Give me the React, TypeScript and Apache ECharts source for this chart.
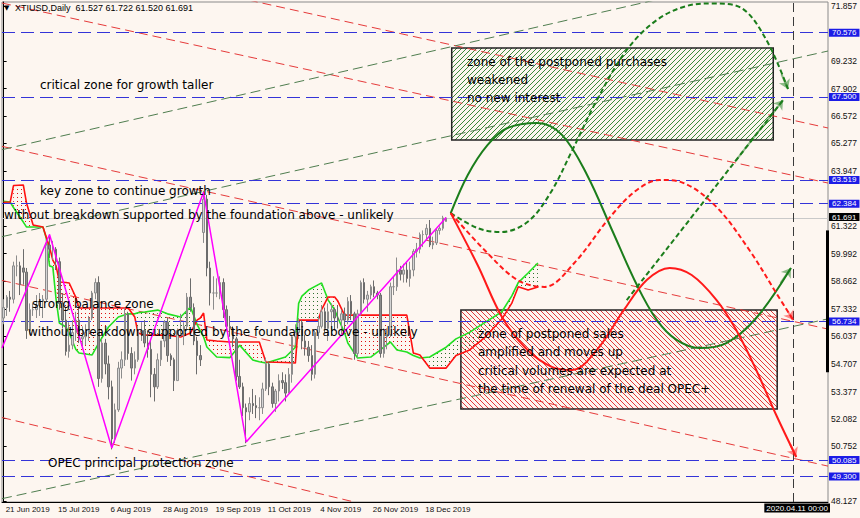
import React, { useEffect, useRef } from 'react';
import * as echarts from 'echarts';

// ---------- data ----------
const categoryCount = 252;
const lastLabelIndex = 128;
const monthNames = ['Jan', 'Feb', 'Mar', 'Apr', 'May', 'Jun', 'Jul', 'Aug', 'Sep', 'Oct', 'Nov', 'Dec'];

const candleOpen = [
  56.9, 57.4, 57.9, 57.8, 59.4, 59.4, 59.3, 59.1, 56.3, 57.3,
  57.3, 57.5, 57.7, 57.8, 60.4, 60.2, 60.2, 59.6, 57.6, 56.8,
  55.3, 55.6, 56.2, 56.8, 55.9, 56.0, 56.2, 56.9, 58.1, 58.6,
  54.0, 55.7, 54.7, 53.6, 51.1, 52.5, 54.5, 54.9, 57.1, 55.2,
  54.5, 54.9, 56.2, 56.3, 55.7, 55.4, 54.2, 53.6, 54.9, 55.8,
  56.7, 55.1, 54.9, 53.9, 56.3, 56.3, 56.5, 57.9, 57.4, 55.8,
  55.1, 61.0, 62.6, 59.3, 58.1, 58.1, 58.1, 58.6, 57.3, 56.5,
  56.4, 55.9, 54.1, 53.6, 52.6, 52.4, 52.8, 52.7, 52.6, 52.6,
  53.5, 54.7, 53.6, 52.8, 53.4, 53.9, 53.8, 53.3, 54.2, 56.0,
  56.2, 56.7, 55.8, 55.5, 55.1, 54.2, 56.2, 56.5, 57.2, 56.4,
  57.2, 57.3, 56.9, 56.8, 57.1, 56.8, 57.7, 57.1, 55.2, 57.1,
  58.6, 57.8, 58.0, 58.4, 58.1, 58.0, 55.2, 56.0, 56.1, 58.4,
  58.4, 59.2, 59.0, 59.2, 58.8, 59.2, 60.1, 60.2, 60.9, 60.9,
  61.2, 60.4, 60.5, 61.1, 61.2, 61.527,
];
const candleClose = [
  57.4, 57.9, 57.8, 59.4, 59.4, 58.5, 59.1, 56.3, 57.3, 57.3,
  57.5, 57.7, 57.8, 60.4, 60.2, 60.2, 59.6, 57.6, 56.8, 55.3,
  55.6, 56.2, 56.8, 55.9, 56.0, 56.2, 56.9, 58.1, 58.6, 54.0,
  55.7, 54.7, 53.6, 51.1, 52.5, 54.5, 54.9, 57.1, 55.2, 54.5,
  54.9, 56.2, 56.3, 55.7, 55.4, 54.2, 53.6, 54.9, 55.8, 56.7,
  55.1, 54.9, 53.9, 56.3, 56.3, 56.5, 57.9, 57.4, 55.8, 55.1,
  54.9, 62.6, 59.3, 58.1, 58.1, 58.1, 58.6, 57.3, 56.5, 56.4,
  55.9, 54.1, 53.6, 52.6, 52.4, 52.8, 52.7, 52.6, 52.6, 53.5,
  54.7, 53.6, 52.8, 53.4, 53.9, 53.8, 53.3, 54.2, 56.0, 56.2,
  56.7, 55.8, 55.5, 55.1, 54.2, 56.2, 56.5, 57.2, 56.4, 57.2,
  57.3, 56.9, 56.8, 57.1, 56.8, 57.7, 57.1, 55.2, 57.1, 58.6,
  57.8, 58.0, 58.4, 58.1, 58.0, 55.2, 56.0, 56.1, 58.4, 58.4,
  59.2, 59.0, 59.2, 58.8, 59.2, 60.1, 60.2, 60.9, 60.9, 61.2,
  60.4, 60.5, 61.1, 61.2, 61.7, 61.691,
];
const candleLow = [
  56.6, 57.0, 57.2, 57.6, 58.9, 58.0, 58.5, 55.9, 56.1, 57.0,
  56.9, 57.0, 56.9, 57.7, 59.8, 59.7, 59.2, 57.3, 56.4, 55.1,
  55.0, 55.4, 55.8, 55.7, 55.4, 55.6, 55.8, 56.8, 57.8, 53.6,
  53.8, 54.2, 53.0, 50.6, 50.9, 52.4, 54.0, 54.6, 54.9, 53.9,
  54.2, 54.8, 55.8, 55.5, 55.0, 53.1, 52.9, 53.5, 54.6, 55.5,
  54.8, 54.6, 53.4, 53.9, 56.0, 55.6, 56.3, 57.2, 55.6, 54.2,
  54.6, 60.5, 58.9, 57.5, 57.3, 57.9, 57.8, 56.9, 56.3, 56.0,
  55.5, 53.9, 53.5, 52.2, 50.9, 52.0, 52.3, 52.1, 52.0, 52.3,
  53.4, 53.2, 52.6, 52.4, 52.9, 53.5, 52.9, 53.3, 53.8, 55.6,
  55.9, 55.4, 55.1, 54.8, 53.9, 54.0, 55.9, 56.4, 56.2, 55.8,
  56.1, 56.3, 56.4, 56.1, 56.3, 56.6, 56.8, 54.9, 55.0, 57.0,
  57.6, 57.2, 57.8, 57.9, 57.8, 55.0, 55.0, 55.4, 56.0, 58.0,
  58.2, 58.7, 58.6, 58.6, 58.4, 58.9, 59.8, 60.0, 60.3, 60.6,
  60.3, 60.2, 60.4, 60.9, 61.1, 61.52,
];
const candleHigh = [
  57.8, 58.0, 58.2, 59.6, 59.9, 59.6, 60.2, 59.3, 57.6, 57.6,
  58.0, 58.1, 58.0, 60.5, 60.9, 60.6, 60.3, 59.8, 58.1, 57.4,
  56.7, 56.8, 57.2, 57.5, 56.5, 56.6, 57.0, 58.2, 58.8, 58.9,
  55.9, 55.9, 55.1, 53.9, 52.8, 54.8, 55.3, 57.4, 57.2, 55.5,
  55.3, 56.5, 56.7, 56.8, 56.3, 55.8, 54.5, 55.2, 55.8, 56.8,
  56.9, 55.2, 55.0, 56.4, 57.1, 56.7, 58.1, 58.8, 57.6, 56.0,
  55.6, 63.0, 62.8, 59.6, 58.9, 58.8, 58.9, 58.8, 57.5, 57.0,
  56.5, 56.0, 54.9, 53.8, 52.8, 53.1, 53.5, 53.2, 53.1, 53.8,
  55.0, 54.8, 53.8, 53.5, 54.2, 54.3, 54.2, 54.5, 56.1, 56.6,
  56.9, 56.8, 56.1, 55.8, 55.6, 56.3, 57.0, 57.5, 57.4, 57.6,
  57.6, 57.4, 57.5, 57.3, 57.4, 57.9, 58.0, 57.2, 57.3, 58.7,
  58.8, 58.2, 58.5, 58.7, 58.2, 58.1, 56.4, 56.4, 58.6, 58.9,
  59.8, 59.4, 59.5, 59.6, 59.6, 60.2, 60.5, 61.0, 61.1, 61.4,
  61.6, 60.8, 61.2, 61.3, 61.8, 61.722,
];

// Ichimoku cloud (bar index, span A green, span B red)
const cloudBar = [0, 2, 3, 6, 7, 9, 12, 13, 14, 15, 16, 17, 19, 20, 22, 23, 27, 29, 32, 35, 38, 40, 41, 43, 47, 50, 54, 57, 59, 60, 61, 62, 65, 69, 72, 76, 78, 80, 86, 89, 90, 91, 93, 96, 97, 99, 101, 102, 104, 105, 108, 112, 116, 118, 120, 123, 125, 127, 130, 135, 138, 142, 147, 152, 155, 157, 160, 163];
const spanA = [62.5, 62.46, 62.2, 61.5, 61.26, 61.26, 61.26, 60.73, 59.4, 59.35, 57.8, 56.66, 56.47, 56.18, 55.4, 55.22, 55.13, 55.7, 56.47, 56.95, 57.1, 57.1, 57.15, 57.19, 57.28, 57.1, 56.95, 57.43, 56.6, 56.3, 56.0, 55.51, 55.03, 55.0, 55.6, 54.89, 54.8, 54.74, 55.03, 55.5, 57.6, 57.95, 58.24, 58.5, 58.58, 57.76, 57.3, 56.9, 56.2, 55.7, 54.98, 55.03, 55.51, 55.75, 55.37, 55.27, 55.1, 54.98, 55.03, 55.5, 55.9, 56.2, 56.7, 57.2, 57.95, 58.6, 59.06, 59.54];
const spanB = [62.45, 62.46, 63.25, 63.28, 62.4, 61.36, 61.26, 60.78, 60.3, 59.68, 59.4, 58.63, 58.6, 58.58, 57.9, 57.38, 57.38, 57.38, 57.38, 57.38, 57.38, 56.95, 56.18, 56.08, 56.08, 56.08, 55.99, 56.18, 56.8, 56.9, 57.14, 55.85, 55.8, 55.75, 55.75, 55.75, 55.75, 54.79, 54.77, 54.74, 56.8, 56.8, 56.8, 56.8, 57.3, 57.91, 57.91, 57.7, 57.04, 57.04, 57.04, 57.04, 57.04, 57.04, 57.04, 57.04, 55.22, 55.13, 54.5, 54.5, 55.1, 55.35, 56.0, 56.85, 57.6, 58.4, 58.24, 58.39];

// ZigZag
const zigzagBar = [-0.5, 14, 33, 61, 74, 135];
const zigzagPrice = [55.46, 60.9, 50.67, 62.94, 50.96, 61.72];

// Trend channels [bar, price] pairs
const redChannels = [
  [[-0.5, 72.0], [251.5, 63.37]],
  [[74.8, 72.14], [251.5, 66.01]],
  [[-0.5, 65.13], [251.5, 56.37]],
  [[-0.5, 58.7], [251.5, 49.8]],
  [[-0.5, 52.13], [107, 48.08]],
];
const greenChannels = [
  [[-0.5, 64.97], [198.6, 72.14]],
  [[-0.5, 60.8], [251.5, 69.7]],
  [[-0.5, 48.24], [251.5, 56.86]],
];

// Forecast scenarios [bar, price]
const greenSolidPath = [[136.4, 61.93], [141.6, 63.76], [147.6, 65.19], [153.7, 66.01], [162.8, 66.25], [170.4, 65.67], [178, 63.76], [185.6, 61.12], [193.2, 58.48], [199.3, 56.8], [205.3, 55.85], [212.3, 55.46], [220.5, 55.7], [229.6, 56.9], [240.2, 59.3]];
const greenDashPath = [[136.4, 61.93], [144.6, 61.21], [151.6, 61.02], [159.8, 61.5], [166.8, 62.89], [173.5, 64.95], [181, 67.35], [190.1, 69.75], [199.3, 71.19], [208.4, 71.86], [216.6, 71.98], [225.1, 71.76], [232.7, 70.23], [239.3, 67.88]];
const greenStraightPath = [[190.1, 57.76], [237.8, 67.35]];
const redSolidPath = [[136.4, 61.93], [144.6, 59.44], [152.2, 56.9], [159.8, 55.37], [167.4, 54.55], [173.5, 54.41], [181, 55.37], [189.2, 57.28], [196.2, 58.72], [203.2, 59.3], [209.9, 58.96], [217.5, 57.76], [223.5, 56.32], [229.6, 54.41], [235.7, 52.25], [241.8, 50.24]];
const redDashPath = [[136.4, 61.93], [146.7, 60.16], [156.8, 58.72], [165, 58.39], [174.1, 59.54], [185, 61.74], [193.2, 63.04], [200.2, 63.52], [207.5, 63.37], [217.5, 62.22], [227.5, 60.16], [235.7, 58.1], [240.9, 56.8]];

// Zones [fromBar, toBar, top, bottom]
const purchaseZone = [136.7, 234.8, 69.84, 65.43];
const salesZone = [139.5, 236.0, 57.28, 52.54];

// Levels & axis
const levelValues = [70.576, 67.5, 63.519, 62.384, 56.734, 50.085, 49.3];
const lastPrice = 61.691;
const markerBar = 240.8;
const markerLabel = '2020.04.11 00:00';
const yTickValues = [71.857, 69.232, 67.902, 66.572, 65.277, 63.947, 61.322, 59.992, 58.662, 57.332, 56.037, 54.707, 53.377, 52.082, 50.752, 48.127];
const yMin = 48.08;
const yMax = 72.05;

// ---------- helpers ----------
function buildCategories(): string[] {
  const out: string[] = [];
  const d = new Date(Date.UTC(2019, 5, 21));
  while (out.length < categoryCount) {
    const wd = d.getUTCDay();
    if (wd !== 0 && wd !== 6) out.push(`${d.getUTCDate()} ${monthNames[d.getUTCMonth()]} ${d.getUTCFullYear()}`);
    d.setUTCDate(d.getUTCDate() + 1);
  }
  return out;
}

function makePattern(size: number, draw: (ctx: CanvasRenderingContext2D, s: number) => void) {
  const c = document.createElement('canvas');
  c.width = size;
  c.height = size;
  const ctx = c.getContext('2d')!;
  draw(ctx, size);
  return { image: c.toDataURL(), repeat: 'repeat', imageWidth: size, imageHeight: size } as any;
}

function hatch(color: string, up: boolean) {
  return makePattern(5, (ctx, s) => {
    ctx.strokeStyle = color;
    ctx.lineWidth = 1;
    ctx.beginPath();
    for (let k = -1; k <= 1; k++) {
      if (up) {
        ctx.moveTo(k * s, s);
        ctx.lineTo(k * s + s, 0);
      } else {
        ctx.moveTo(k * s, 0);
        ctx.lineTo(k * s + s, s);
      }
    }
    ctx.stroke();
  });
}

function dots(color: string) {
  return makePattern(4, (ctx) => {
    ctx.fillStyle = color;
    ctx.fillRect(1, 1, 1, 1);
  });
}

function arrowTip(path: number[][]) {
  const a = path[path.length - 2];
  const b = path[path.length - 1];
  const t = 0.7;
  return [[a[0] + (b[0] - a[0]) * t, a[1] + (b[1] - a[1]) * t], b];
}

const FONT_AXIS = 'Liberation Sans';
const FONT_NOTE = 'DejaVu Sans';
const BG = '#fdf6f0';

function buildOption() {
  const categories = buildCategories();
  const candles = candleOpen.map((o, i) => [o, candleClose[i], candleLow[i], candleHigh[i]]);
  const cloudSegments = cloudBar.slice(0, -1).map((b, i) => [b, spanA[i], spanB[i], cloudBar[i + 1], spanA[i + 1], spanB[i + 1]]);
  const redDots = dots('#e01010');
  const greenDots = dots('#2f6f2f');
  const showLabel = (index: number) => index % 16 === 0 && index <= lastLabelIndex;

  const lineCommon = {
    type: 'line',
    xAxisIndex: 1,
    yAxisIndex: 0,
    symbol: 'none',
    silent: true,
    animation: false,
  };

  const levelLabel = (v: number, bg: string, dy: number) => ({
    show: true,
    position: 'end',
    distance: 1,
    offset: [0, dy],
    formatter: () => v.toFixed(3),
    color: '#fff',
    backgroundColor: bg,
    padding: [0, 3, 0, 3],
    lineHeight: 8,
    fontSize: 8,
    fontFamily: FONT_AXIS,
  });

  const series: any[] = [];

  series.push({
    ...lineCommon,
    name: 'zones',
    data: [],
    z: 1,
    markArea: {
      silent: true,
      data: [
        [
          { coord: [purchaseZone[0], purchaseZone[2]], itemStyle: { color: hatch('#3b8a3b', true), borderColor: '#222', borderWidth: 1.5 } },
          { coord: [purchaseZone[1], purchaseZone[3]] },
        ],
        [
          { coord: [salesZone[0], salesZone[2]], itemStyle: { color: hatch('#e23a3a', false), borderColor: '#222', borderWidth: 1.5 } },
          { coord: [salesZone[1], salesZone[3]] },
        ],
      ],
    },
  });

  series.push({
    type: 'custom',
    name: 'cloud',
    xAxisIndex: 1,
    yAxisIndex: 0,
    silent: true,
    z: 2,
    data: cloudSegments,
    encode: { x: [0, 3], y: [1, 2, 4, 5] },
    renderItem: (params: any, api: any) => {
      const x0 = api.value(0), a0 = api.value(1), b0 = api.value(2);
      const x1 = api.value(3), a1 = api.value(4), b1 = api.value(5);
      const pts = [api.coord([x0, a0]), api.coord([x1, a1]), api.coord([x1, b1]), api.coord([x0, b0])];
      const greenTop = a0 + a1 > b0 + b1;
      return { type: 'polygon', shape: { points: pts }, style: { fill: greenTop ? greenDots : redDots, stroke: null } };
    },
  });

  redChannels.forEach((seg, i) => {
    series.push({ ...lineCommon, name: 'redCh' + i, data: seg, z: 3, lineStyle: { color: '#e53a3a', width: 1, type: [9, 5] } });
  });
  greenChannels.forEach((seg, i) => {
    series.push({ ...lineCommon, name: 'greenCh' + i, data: seg, z: 3, lineStyle: { color: '#4f7d4f', width: 1, type: [10, 5] } });
  });

  series.push({ ...lineCommon, name: 'spanA', data: cloudBar.map((b, i) => [b, spanA[i]]), z: 4, lineStyle: { color: '#22e022', width: 1.6 } });
  series.push({ ...lineCommon, name: 'spanB', data: cloudBar.map((b, i) => [b, spanB[i]]), z: 4, lineStyle: { color: '#ff1010', width: 1.6 } });

  series.push({
    type: 'candlestick',
    name: 'XTIUSD',
    xAxisIndex: 0,
    yAxisIndex: 0,
    data: candles,
    barWidth: 2,
    z: 5,
    silent: true,
    itemStyle: { color: '#d4d4d4', color0: '#8c8c8c', borderColor: '#8c8c8c', borderColor0: '#6c6c6c', borderWidth: 1 },
    markLine: {
      silent: true,
      symbol: ['none', 'none'],
      animation: false,
      data: [
        ...levelValues.map((v) => ({
          yAxis: v,
          lineStyle: { color: '#3434d8', width: 1, type: [13, 6] },
          label: levelLabel(v, '#1c1ce6', 0),
        })),
        {
          yAxis: lastPrice,
          lineStyle: { color: '#c9c9c9', width: 1, type: 'solid' },
          label: levelLabel(lastPrice, '#000', -1),
        },
      ],
    },
  });

  series.push({
    ...lineCommon,
    name: 'zigzag',
    data: zigzagBar.map((b, i) => [b, zigzagPrice[i]]),
    z: 6,
    lineStyle: { color: '#ff00ff', width: 1.5 },
    markLine: {
      silent: true,
      symbol: ['none', 'none'],
      label: { show: false },
      data: [
        { xAxis: markerBar, lineStyle: { color: '#3a3a3a', width: 1, type: [9, 5] } },
        [
          { coord: [251.2, 61.1], lineStyle: { color: '#000', width: 3, type: 'solid' } },
          { coord: [251.2, 54.3] },
        ],
      ],
    },
  });

  const forecasts = [
    { path: greenSolidPath, color: '#1b7d1b', dash: 'solid' },
    { path: greenDashPath, color: '#1b7d1b', dash: [5, 3] },
    { path: greenStraightPath, color: '#1b7d1b', dash: [5, 3] },
    { path: redSolidPath, color: '#ff1a1a', dash: 'solid' },
    { path: redDashPath, color: '#ff1a1a', dash: [5, 3] },
  ];
  forecasts.forEach((f, i) => {
    series.push({ ...lineCommon, name: 'fc' + i, data: f.path, smooth: 0.35, z: 7, lineStyle: { color: f.color, width: 2, type: f.dash } });
    series.push({
      type: 'lines',
      name: 'fcArrow' + i,
      coordinateSystem: 'cartesian2d',
      xAxisIndex: 1,
      yAxisIndex: 0,
      silent: true,
      z: 7,
      symbol: ['none', 'arrow'],
      symbolSize: 9,
      lineStyle: { color: f.color, width: 2, type: 'solid' },
      data: [{ coords: arrowTip(f.path) }],
    });
  });

  const note = (text: string, x: number, y: number) => ({
    type: 'text',
    x,
    y,
    z: 100,
    silent: true,
    style: { text, fill: '#000', font: `12px "${FONT_NOTE}"`, verticalAlign: 'middle', align: 'left' },
  });

  const graphic = [
    {
      type: 'text', x: 4, y: 8, z: 100, silent: true,
      style: { text: '▼', fill: '#000', font: `7px "DejaVu Sans"`, verticalAlign: 'middle' },
    },
    {
      type: 'text', x: 15, y: 8, z: 100, silent: true,
      style: { text: 'XTIUSD,Daily  61.527 61.722 61.520 61.691', fill: '#000', font: `9px "${FONT_AXIS}"`, verticalAlign: 'middle' },
    },
    note('critical zone for growth taller', 40, 85),
    note('key zone to continue growth', 40, 191),
    note('without breakdown supported by the foundation above - unlikely', 4, 215),
    note('strong balance zone', 32, 304),
    note('without breakdown supported by the foundation above - unlikely', 28, 332),
    note('OPEC principal protection zone', 48, 463),
    note('zone of the postponed purchases', 467, 62),
    note('weakened', 467, 80),
    note('no new interest', 467, 98),
    note('zone of postponed sales', 478, 334),
    note('amplified and moves up', 478, 352),
    note('critical volumes are expected at', 478, 371),
    note('the time of renewal of the deal OPEC+', 478, 389),
    {
      type: 'text', x: 830, y: 508, z: 100, silent: true,
      style: { text: markerLabel, fill: '#fff', font: `8px "${FONT_AXIS}"`, verticalAlign: 'middle', align: 'right', backgroundColor: '#000', padding: [1, 2, 0, 2] },
    },
  ];

  return {
    animation: false,
    backgroundColor: BG,
    grid: { left: 2, right: 28, top: 2, bottom: 16, show: true, borderColor: '#8a8a8a', borderWidth: 1, backgroundColor: 'transparent' },
    xAxis: [
      {
        type: 'category',
        data: categories,
        boundaryGap: true,
        axisLine: { lineStyle: { color: '#000', width: 1 } },
        axisTick: { alignWithLabel: true, interval: (index: number) => showLabel(index), length: 3, lineStyle: { color: '#000' } },
        axisLabel: { interval: (index: number) => showLabel(index), align: 'left', margin: 3, padding: [0, 0, 0, 2], fontSize: 8, color: '#111', fontFamily: FONT_AXIS },
        splitLine: { show: false },
      },
      { type: 'value', min: -0.5, max: categoryCount - 0.5, show: false },
    ],
    yAxis: {
      type: 'value',
      position: 'right',
      min: yMin,
      max: yMax,
      axisLine: { show: true, lineStyle: { color: '#000', width: 1 } },
      axisTick: { show: true, length: 3, customValues: yTickValues, lineStyle: { color: '#000' } },
      axisLabel: { customValues: yTickValues, formatter: (v: number) => v.toFixed(3), fontSize: 8.5, lineHeight: 8, color: '#111', margin: 3, fontFamily: FONT_AXIS },
      splitLine: { show: false },
    },
    graphic,
    series,
  };
}

export default function App() {
  const ref = useRef<HTMLDivElement>(null);
  useEffect(() => {
    document.body.style.margin = '0';
    document.body.style.background = BG;
    const chart = echarts.init(ref.current!, null, { renderer: 'svg' });
    chart.setOption(buildOption() as any);
    return () => chart.dispose();
  }, []);
  return <div ref={ref} style={{ position: 'fixed', left: 0, top: 0, width: 860, height: 518, background: BG }} />;
}
